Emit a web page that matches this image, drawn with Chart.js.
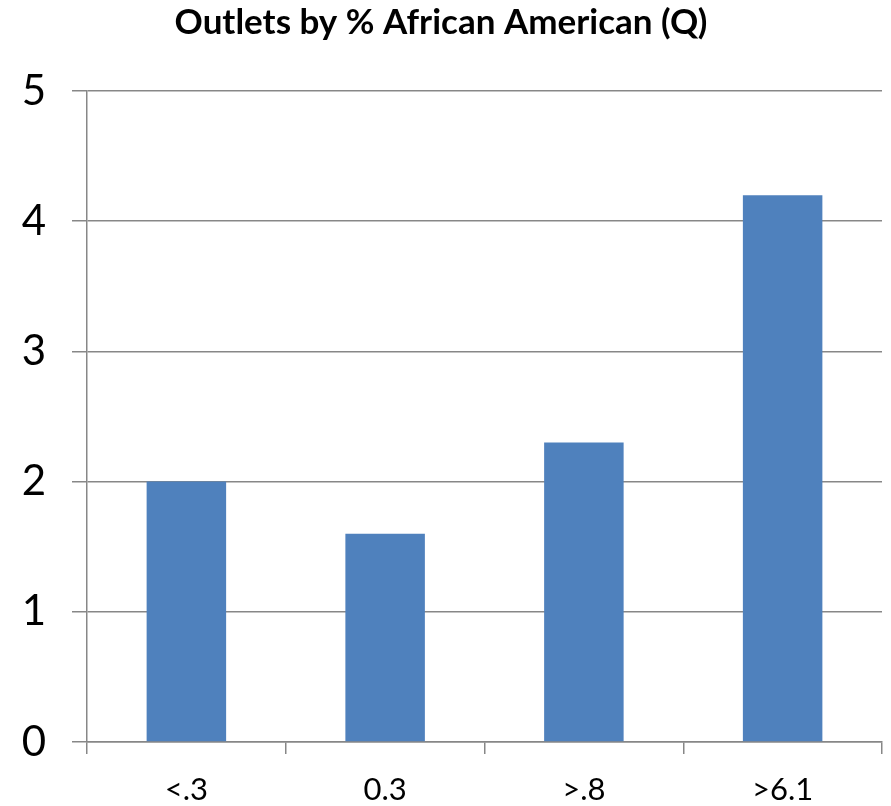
<!DOCTYPE html>
<html>
<head>
<meta charset="utf-8">
<script src="https://cdn.jsdelivr.net/npm/chart.js@4/dist/chart.umd.min.js"></script>
<style>
  html, body { margin: 0; padding: 0; background: #ffffff; }
  #wrap { width: 891px; height: 806px; }
</style>
</head>
<body>
<div id="wrap"><canvas id="c" width="891" height="806"></canvas></div>
<script>
// Outlet counts grouped by quartile of % African American population
const categories = ['<.3', '0.3', '>.8', '>6.1'];
const outlets = [2.0, 1.6, 2.3, 4.2];
const yTicks = [0, 1, 2, 3, 4, 5];

const FONT = 'Lato, "Open Sans", sans-serif';
const GRID = '#878787';

new Chart(document.getElementById('c'), {
  type: 'bar',
  data: {
    labels: categories,
    datasets: [{
      data: outlets,
      backgroundColor: '#4F81BD',
      borderWidth: 0,
      barPercentage: 0.4,
      categoryPercentage: 1.0
    }]
  },
  options: {
    responsive: false,
    animation: false,
    devicePixelRatio: 1,
    layout: { padding: { left: 0, right: 9, top: 0, bottom: 0 } },
    plugins: {
      legend: { display: false },
      tooltip: { enabled: false },
      title: {
        display: true,
        text: 'Outlets by % African American (Q)',
        color: '#000000',
        font: { family: FONT, size: 35, weight: 'bold' },
        padding: { top: 2, bottom: 47 }
      }
    },
    scales: {
      x: {
        grid: {
          display: true,
          offset: true,
          drawOnChartArea: false,
          drawTicks: true,
          tickLength: 12,
          color: GRID,
          lineWidth: 1.5
        },
        border: { display: true, color: GRID, width: 1.5 },
        ticks: {
          color: '#000000',
          font: { family: FONT, size: 31 },
          padding: 17
        },
        afterFit: (axis) => { axis.height = 64; }
      },
      y: {
        min: 0,
        max: 5,
        afterBuildTicks: (axis) => { axis.ticks = yTicks.map(v => ({ value: v })); },
        grid: {
          color: GRID,
          lineWidth: 1.5,
          drawTicks: true,
          tickLength: 15
        },
        border: { display: true, color: GRID, width: 1.5 },
        ticks: {
          color: '#000000',
          font: { family: FONT, size: 42 },
          padding: 26
        },
        afterFit: (axis) => { axis.width = 87; }
      }
    }
  }
});
</script>
</body>
</html>
